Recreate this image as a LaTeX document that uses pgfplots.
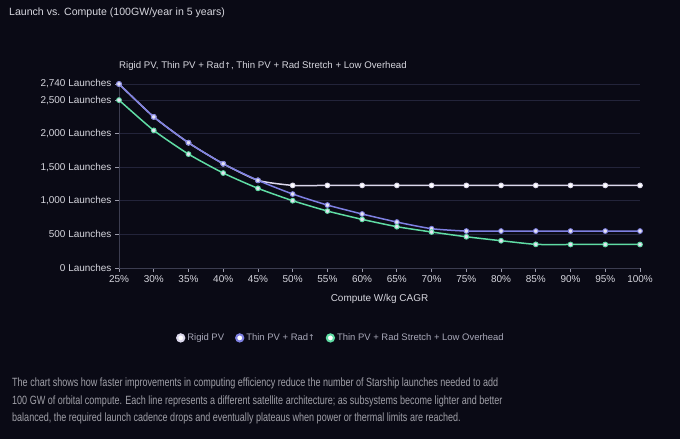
\documentclass[border=0pt]{standalone}
\usepackage{fontspec}
\setmainfont{Liberation Sans}
\newfontfamily\descfont[FakeStretch=0.755]{Liberation Sans}
\newfontfamily\symfont{DejaVu Sans}
\usepackage{pgfplots}
\pgfplotsset{compat=1.18}
\definecolor{bg}{HTML}{0A0A15}
\definecolor{gridc}{HTML}{23243A}
\definecolor{axc}{HTML}{3C3D50}
\definecolor{tickc}{HTML}{9A9AAA}
\definecolor{txt}{HTML}{D6D6DE}
\definecolor{leg}{HTML}{A8A8B8}
\definecolor{desc}{HTML}{A0A0A8}
\definecolor{crigid}{HTML}{DCD8EC}
\definecolor{cthin}{HTML}{7E80E2}
\definecolor{cgreen}{HTML}{5FDCA4}
\definecolor{mfill}{HTML}{E4E2F2}
\begin{document}
\begin{tikzpicture}[x=1bp,y=1bp]
\fill[bg] (0,0) rectangle (680,439);
\useasboundingbox (0,0) rectangle (680,439);
\node[anchor=base west,text=txt,inner sep=0,font=\fontsize{10.6}{12}\selectfont] at (9,439-15.5) {Launch vs. Compute (100GW/year in 5 years)};
\begin{axis}[
  at={(119bp,171bp)}, anchor=south west,
  scale only axis, width=521bp, height=184bp,
  xmin=25, xmax=100, ymin=0, ymax=2740,
  xtick={25,30,...,100},
  xticklabel={\pgfmathprintnumber{\tick}\%},
  ytick={0,500,1000,1500,2000,2500,2740},
  yticklabels={{0 Launches},{500 Launches},{1,000 Launches},{1,500 Launches},{2,000 Launches},{2,500 Launches},{2,740 Launches}},
  /pgf/number format/assume math mode=true,
  tick label style={font=\fontsize{10}{12}\selectfont, text=txt},
  ymajorgrids, grid style={gridc, line width=0.9bp},
  axis x line*=bottom, axis y line*=left,
  axis line style={axc, line width=0.9bp, -},
  tick style={tickc, line width=0.8bp},
  tick align=outside, major tick length=4bp,
  xlabel={Compute W/kg CAGR},
  xlabel style={font=\fontsize{10}{12}\selectfont, text=txt, yshift=-5bp},
  title={Rigid PV, Thin PV + Rad{\symfont\fontsize{8}{10}\selectfont ↑}, Thin PV + Rad Stretch + Low Overhead},
  title style={font=\fontsize{9.7}{12}\selectfont, text=txt, anchor=base west, at={(0,1)}, inner sep=0, yshift=9.5bp},
  legend columns=3,
  legend style={at={(0.426,-0.38)}, anchor=center, fill=none, draw=none, text=leg, font=\fontsize{9.5}{12}\selectfont, /tikz/every even column/.append style={column sep=9bp}},
  legend image code/.code={\draw[line width=2bp,#1,fill=white] (0bp,0bp) circle (3.6bp);},
  every axis plot/.append style={line width=1.5bp, smooth, tension=0.35, mark=*, mark size=2.4bp},
]
\addplot[crigid, mark options={draw=crigid, fill=white, line width=0.9bp}] coordinates {
(25,2740)(30,2250)(35,1865)(40,1552)(45,1305)(50,1230)(55,1230)(60,1230)(65,1230)(70,1230)(75,1230)(80,1230)(85,1230)(90,1230)(95,1230)(100,1230)};
\addlegendentry{Rigid PV}
\addplot[cthin, mark options={draw=cthin, fill=mfill, line width=0.9bp}] coordinates {
(25,2740)(30,2250)(35,1865)(40,1552)(45,1305)(50,1101)(55,937)(60,804)(65,684)(70,585)(75,550)(80,550)(85,550)(90,550)(95,550)(100,550)};
\addlegendentry{Thin PV + Rad{\symfont\fontsize{8}{10}\selectfont ↑}}
\addplot[cgreen, mark options={draw=cgreen, fill=mfill, line width=0.9bp}] coordinates {
(25,2500)(30,2049)(35,1696)(40,1414)(45,1186)(50,1002)(55,848)(60,724)(65,615)(70,536)(75,465)(80,406)(85,352)(90,350)(95,350)(100,350)};
\addlegendentry{Thin PV + Rad Stretch + Low Overhead}
\end{axis}
\begin{scope}[every node/.style={anchor=base west, inner sep=0, text=desc, font=\descfont\fontsize{12}{13}\selectfont}]
\node at (12,439-387) {The chart shows how faster improvements in computing efficiency reduce the number of Starship launches needed to add};
\node at (12,439-404.3) {100 GW of orbital compute. Each line represents a different satellite architecture; as subsystems become lighter and better};
\node at (12,439-421.6) {balanced, the required launch cadence drops and eventually plateaus when power or thermal limits are reached.};
\end{scope}
\end{tikzpicture}
\end{document}
